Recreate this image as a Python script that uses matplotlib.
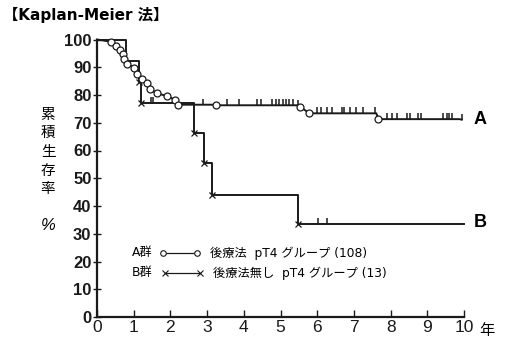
import numpy as np
import matplotlib.pyplot as plt
from matplotlib.lines import Line2D

plt.rcParams['font.family'] = ['DejaVu Sans', 'Noto Sans CJK JP']

# Group A (post-op therapy, n=108): event points (circles)
a_time = [0, 0.38, 0.52, 0.63, 0.70, 0.74, 0.83, 1.01, 1.10, 1.22, 1.35, 1.44,
          1.63, 1.92, 2.13, 2.21, 3.24, 5.53, 5.79, 7.67, 9.94]
a_surv = [100, 99.2, 97.6, 96.2, 94.6, 93.1, 91.3, 89.8, 87.7, 85.8, 84.4, 82.0,
          80.7, 79.5, 78.3, 76.5, 76.3, 75.8, 73.4, 71.3, 71.1]
a_censor = [2.88, 3.53, 3.88, 4.35, 4.47, 4.76, 4.87, 4.97, 5.06, 5.15, 5.24, 5.35, 5.49,
            5.99, 6.10, 6.28, 6.39, 6.67, 6.74, 6.89, 7.05, 7.25, 7.57,
            7.89, 8.03, 8.17, 8.44, 8.53, 8.76, 8.82, 9.44, 9.53, 9.60, 9.68, 9.94]

# Group B (no post-op therapy, n=13): KM steps
b_event = [0.79, 1.14, 1.20, 2.64, 2.92, 3.13, 5.48]
b_surv = [92.3, 84.6, 77.0, 66.2, 55.6, 43.8, 33.6]
b_censor = [1.46, 1.52, 6.03, 6.26]
b_end = 10.0

fig = plt.figure(figsize=(5.09, 3.43), dpi=100)
ax = fig.add_axes([97 / 509, 26 / 343, 367 / 509, 277.5 / 343])
ink = '#1a1a1a'

# B curve
bx = np.array([0] + b_event + [b_end])
by = np.array([100] + b_surv + [b_surv[-1]])
ax.step(bx, by, where='post', color=ink, lw=1.4, clip_on=False, zorder=2)
ax.plot(b_event[1:], b_surv[1:], ls='none', marker='x', ms=5, mew=0.9,
        color=ink, clip_on=False, zorder=4)
b_lvl = by[np.searchsorted(bx, b_censor, side='right') - 1]
tick = [(0, 0), (0, 1)]
ax.plot(b_censor, b_lvl, ls='none', marker=tick, ms=9, mew=1.1,
        color=ink, clip_on=False)

# A curve: joined circles, held flat across long gaps
lx, ly = [a_time[0]], [a_surv[0]]
for i in range(1, len(a_time)):
    if a_time[i] - a_time[i - 1] > 0.5:
        lx.append(a_time[i] - 0.06)
        ly.append(a_surv[i - 1])
    lx.append(a_time[i])
    ly.append(a_surv[i])
ax.plot(lx, ly, color=ink, lw=1.4, clip_on=False, zorder=3)
ax.plot(a_time[1:-1], a_surv[1:-1], ls='none', marker='o', ms=5, mfc='white',
        mec=ink, mew=0.9, clip_on=False, zorder=5)
a_lvl = np.interp(a_censor, lx, ly)
ax.plot(a_censor, a_lvl, ls='none', marker=tick, ms=9, mew=1.1,
        color=ink, clip_on=False)

ax.text(10.44, 71.1, 'A', ha='center', va='center', fontsize=13,
        fontweight='bold', family='Liberation Sans', clip_on=False)
ax.text(10.44, 33.9, 'B', ha='center', va='center', fontsize=13,
        fontweight='bold', family='Liberation Sans', clip_on=False)

# legend drawn by hand
lg = dict(fontsize=8.8, va='center', family=['DejaVu Sans', 'Noto Sans CJK JP'])
ax.text(0.95, 23.1, 'A群', **lg)
ax.add_line(Line2D([1.80, 2.72], [23.1, 23.1], color=ink, lw=0.9,
                   marker='o', ms=4, mfc='white', mec=ink, mew=0.8))
ax.text(3.08, 23.1, '後療法  pT4 グループ (108)', **lg)
ax.text(0.95, 15.9, 'B群', **lg)
ax.add_line(Line2D([1.85, 2.80], [15.9, 15.9], color=ink, lw=0.9,
                   marker='x', ms=4, mew=0.8))
ax.text(3.16, 15.9, '後療法無し  pT4 グループ (13)', **lg)

ax.set_xlim(0, 10)
ax.set_ylim(0, 100)
ax.set_xticks(range(0, 11))
ax.set_yticks(range(0, 101, 10))
for s in ['top', 'right']:
    ax.spines[s].set_visible(False)
for s in ['left', 'bottom']:
    ax.spines[s].set_linewidth(1.6)
    ax.spines[s].set_color(ink)
ax.tick_params(axis='y', direction='inout', length=6, width=1.0, pad=1,
               labelsize=12, colors=ink)
ax.tick_params(axis='x', direction='in', length=5, width=1.0, pad=2,
               labelsize=12.5, colors=ink)
for lab in ax.get_yticklabels():
    lab.set_family('Liberation Sans')
    lab.set_fontweight('bold')
for lab in ax.get_xticklabels():
    lab.set_family('Liberation Sans')

fig.text(487 / 509, 1 - 330 / 343, '年', ha='center', va='center',
         fontsize=11, family=['Noto Sans CJK JP'])

for ch, yy in zip('累積生存率', [115, 133, 152, 171, 189]):
    fig.text(48 / 509, 1 - yy / 343, ch, ha='center', va='center',
             fontsize=10.5, family=['Noto Sans CJK JP'])
fig.text(48 / 509, 1 - 225 / 343, '%', ha='center', va='center',
         fontsize=12, family='Liberation Sans', style='italic')

fig.text(3 / 509, 1 - 15 / 343, '【Kaplan-Meier 法】', ha='left', va='center',
         fontsize=11, fontweight='bold')

fig.savefig('out.png', dpi=100)
